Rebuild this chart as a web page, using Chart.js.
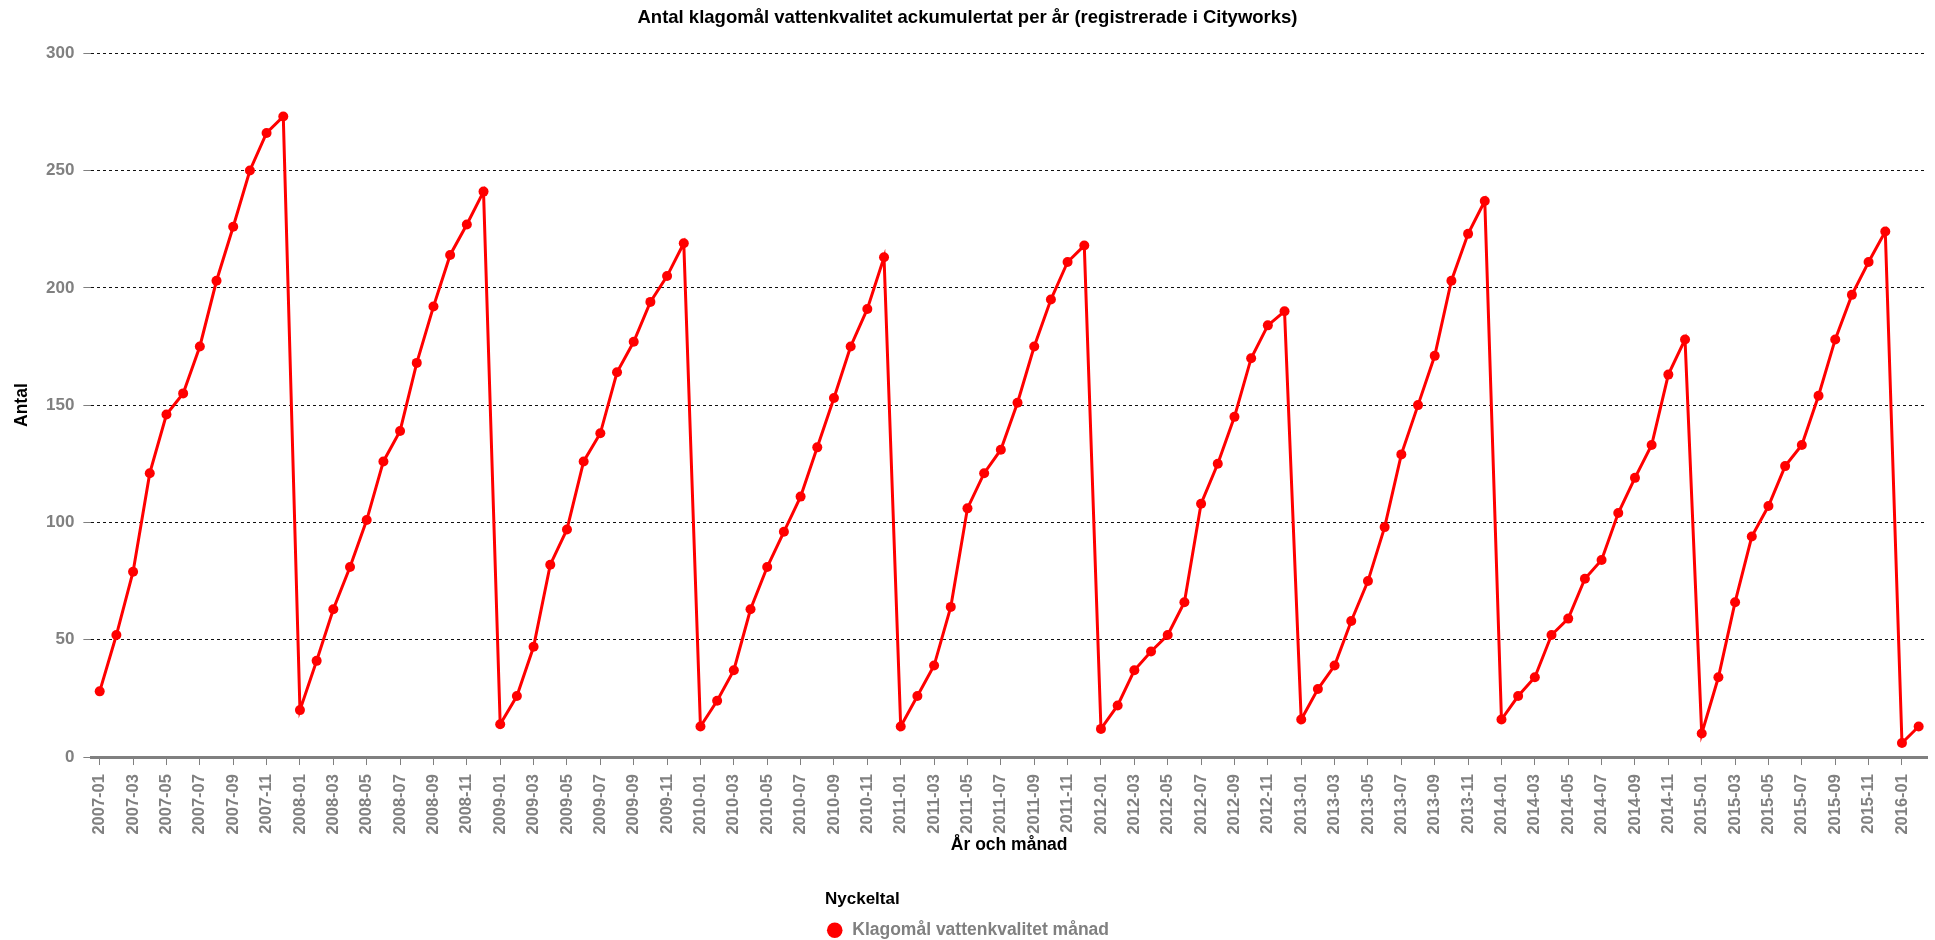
<!DOCTYPE html>
<html>
<head>
<meta charset="utf-8">
<script src="https://cdn.jsdelivr.net/npm/chart.js@4/dist/chart.umd.min.js"></script>
<style>
  html, body { margin: 0; padding: 0; background: #fff; }
  #wrap { width: 1935px; height: 940px; }
</style>
</head>
<body>
<div id="wrap"><canvas id="chart" width="1935" height="940"></canvas></div>
<script>
// Månader 2007-01 .. 2016-02
var years = ['2007', '2008', '2009', '2010', '2011', '2012', '2013', '2014', '2015', '2016'];
var months = ['01', '02', '03', '04', '05', '06', '07', '08', '09', '10', '11', '12'];

// ackumulerat antal per år
var v2007 = [28, 52, 79, 121, 146, 155, 175, 203, 226, 250, 266, 273];
var v2008 = [20, 41, 63, 81, 101, 126, 139, 168, 192, 214, 227, 241];
var v2009 = [14, 26, 47, 82, 97, 126, 138, 164, 177, 194, 205, 219];
var v2010 = [13, 24, 37, 63, 81, 96, 111, 132, 153, 175, 191, 213];
var v2011 = [13, 26, 39, 64, 106, 121, 131, 151, 175, 195, 211, 218];
var v2012 = [12, 22, 37, 45, 52, 66, 108, 125, 145, 170, 184, 190];
var v2013 = [16, 29, 39, 58, 75, 98, 129, 150, 171, 203, 223, 237];
var v2014 = [16, 26, 34, 52, 59, 76, 84, 104, 119, 133, 163, 178];
var v2015 = [10, 34, 66, 94, 107, 124, 133, 154, 178, 197, 211, 224];
var v2016 = [6, 13];

var yTicks = [0, 50, 100, 150, 200, 250, 300];

var series = [v2007, v2008, v2009, v2010, v2011, v2012, v2013, v2014, v2015, v2016];
var labels = [];
var values = [];
series.forEach(function (arr, yi) {
  arr.forEach(function (v, mi) {
    labels.push(years[yi] + '-' + months[mi]);
    values.push(v);
  });
});

var FONT = "'Liberation Sans', Arial, sans-serif";
var GRAY = '#808080';

new Chart(document.getElementById('chart'), {
  type: 'line',
  data: {
    labels: labels,
    datasets: [
      {
        label: 'Klagomål vattenkvalitet månad',
        data: values,
        borderColor: '#ff0000',
        backgroundColor: '#ff0000',
        borderWidth: 3,
        pointRadius: 5,
        pointBackgroundColor: '#ff0000',
        pointBorderWidth: 0,
        tension: 0
      }
    ]
  },
  options: {
    responsive: false,
    animation: false,
    layout: { padding: { left: 8, right: 8, top: 0, bottom: -9 } },
    plugins: {
      title: {
        display: true,
        text: 'Antal klagomål vattenkvalitet ackumulertat per år (registrerade i Cityworks)',
        color: '#000',
        font: { family: FONT, size: 18.5, weight: 'bold' },
        padding: { top: 7, bottom: 24 }
      },
      // x-axelns rubrik, centrerad över ritytan
      subtitle: {
        display: true,
        text: 'År och månad',
        position: 'bottom',
        weight: 500,
        fullSize: false,
        color: '#000',
        font: { family: FONT, size: 17.5, weight: 'bold' },
        padding: { top: -8.5, bottom: 0 }
      },
      legend: {
        display: true,
        position: 'bottom',
        title: {
          display: true,
          text: 'Nyckeltal',
          position: 'start',
          color: '#000',
          font: { family: FONT, size: 17, weight: 'bold' },
          padding: { top: 35, bottom: 8 }
        },
        labels: {
          usePointStyle: true,
          pointStyle: 'circle',
          boxHeight: 11,
          color: GRAY,
          padding: 2,
          font: { family: FONT, size: 17.5, weight: 'bold' }
        }
      },
      tooltip: { enabled: false }
    },
    scales: {
      x: {
        offset: true,
        border: { display: true, color: GRAY, width: 3 },
        grid: { drawOnChartArea: false, drawTicks: true, tickLength: 8, color: GRAY, offset: false },
        ticks: {
          autoSkip: true,
          maxTicksLimit: 55,
          minRotation: 90,
          maxRotation: 90,
          color: GRAY,
          padding: 9,
          font: { family: FONT, size: 16.5, weight: 'bold' }
        }
      },
      y: {
        min: 0,
        max: 300,
        title: {
          display: true,
          text: 'Antal',
          color: '#000',
          font: { family: FONT, size: 17.5, weight: 'bold' },
          padding: { top: 4, bottom: 4 }
        },
        border: { display: false, dash: [3, 3] },
        grid: {
          color: function (c) {
            return c.tick && c.tick.value === 0 ? 'rgba(0,0,0,0)' : '#111';
          },
          tickColor: GRAY,
          tickLength: 8,
          lineWidth: 1
        },
        afterBuildTicks: function (axis) {
          axis.ticks = yTicks.map(function (v) { return { value: v }; });
        },
        ticks: {
          color: GRAY,
          padding: 9,
          font: { family: FONT, size: 17, weight: 'bold' }
        }
      }
    }
  }
});
</script>
</body>
</html>
